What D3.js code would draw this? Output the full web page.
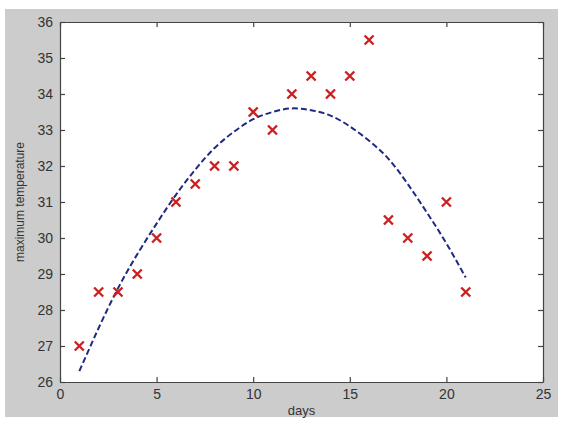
<!DOCTYPE html>
<html>
<head>
<meta charset="utf-8">
<script src="https://cdn.jsdelivr.net/npm/d3@7"></script>
<style>
  body { margin: 0; background: #fff; }
  text { font-family: "Liberation Sans", Arial, sans-serif; }
</style>
</head>
<body>
<svg id="chart" width="562" height="421"></svg>
<script>
// observed max temperatures per day
var days = [1, 2, 3, 4, 5, 6, 7, 8, 9, 10, 11, 12, 13, 14, 15, 16, 17, 18, 19, 20, 21];
var temps = [27, 28.5, 28.5, 29, 30, 31, 31.5, 32, 32, 33.5, 33, 34, 34.5, 34, 34.5, 35.5, 30.5, 30, 29.5, 31, 28.5];
// dashed fitted curve at each day
var fitTemps = [26.3, 27.5, 28.6, 29.55, 30.4, 31.2, 31.9, 32.5, 32.95, 33.3, 33.5, 33.6, 33.55, 33.4, 33.1, 32.7, 32.2, 31.5, 30.7, 29.85, 28.9];
var xTicks = [0, 5, 10, 15, 20, 25];
var yTicks = [26, 27, 28, 29, 30, 31, 32, 33, 34, 35, 36];

var svg = d3.select("#chart"),
    plotL = 60, plotR = 543, plotT = 22, plotB = 382;

// gray figure panel
svg.append("rect")
    .attr("x", 5).attr("y", 9)
    .attr("width", 553).attr("height", 408)
    .attr("fill", "#cccccc");

svg.append("rect")
    .attr("x", plotL).attr("y", plotT)
    .attr("width", plotR - plotL).attr("height", plotB - plotT)
    .attr("fill", "#ffffff");

var x = d3.scaleLinear().domain([0, 25]).range([plotL, plotR]);
var y = d3.scaleLinear().domain([26, 36]).range([plotB, plotT]);

// axes with inward ticks, mirrored on top and right
function styleAxis(g) {
    g.select(".domain").attr("stroke", "#444").attr("stroke-width", 1.2);
    g.selectAll(".tick line").attr("stroke", "#444").attr("stroke-width", 1.2);
    g.selectAll(".tick text").attr("fill", "#333").attr("font-size", 14);
}

svg.append("g")
    .attr("transform", "translate(0," + plotB + ")")
    .call(d3.axisBottom(x).tickValues(xTicks).tickSizeInner(-5).tickSizeOuter(0).tickPadding(4))
    .call(styleAxis)
    .selectAll(".tick text").attr("dy", "0.95em");

svg.append("g")
    .attr("transform", "translate(0," + plotT + ")")
    .call(d3.axisTop(x).tickValues(xTicks).tickSizeInner(-5).tickSizeOuter(0).tickFormat(""))
    .call(styleAxis);

svg.append("g")
    .attr("transform", "translate(" + plotL + ",0)")
    .call(d3.axisLeft(y).tickValues(yTicks).tickSizeInner(-5).tickSizeOuter(0).tickPadding(7))
    .call(styleAxis);

svg.append("g")
    .attr("transform", "translate(" + plotR + ",0)")
    .call(d3.axisRight(y).tickValues(yTicks).tickSizeInner(-5).tickSizeOuter(0).tickFormat(""))
    .call(styleAxis);

// fitted curve
var line = d3.line()
    .x(function (d, i) { return x(days[i]); })
    .y(function (d) { return y(d); })
    .curve(d3.curveNatural);

svg.append("path")
    .datum(fitTemps)
    .attr("d", line)
    .attr("fill", "none")
    .attr("stroke", "#1f2a80")
    .attr("stroke-width", 2)
    .attr("stroke-dasharray", "6,3");

// red x markers
var s = 4.5;
var marks = svg.append("g").selectAll("g")
    .data(temps)
    .enter().append("g")
    .attr("transform", function (d, i) { return "translate(" + x(days[i]) + "," + y(d) + ")"; });

marks.append("path")
    .attr("d", "M" + (-s) + "," + (-s) + "L" + s + "," + s + "M" + (-s) + "," + s + "L" + s + "," + (-s))
    .attr("stroke", "#cc2020")
    .attr("stroke-width", 2.4)
    .attr("fill", "none");

// axis labels
svg.append("text")
    .attr("x", x(12.5)).attr("y", 415)
    .attr("text-anchor", "middle")
    .attr("font-size", 13)
    .attr("fill", "#333")
    .text("days");

svg.append("text")
    .attr("transform", "translate(24," + y(31) + ") rotate(-90)")
    .attr("text-anchor", "middle")
    .attr("font-size", 12)
    .attr("fill", "#333")
    .text("maximum temperature");
</script>
</body>
</html>
